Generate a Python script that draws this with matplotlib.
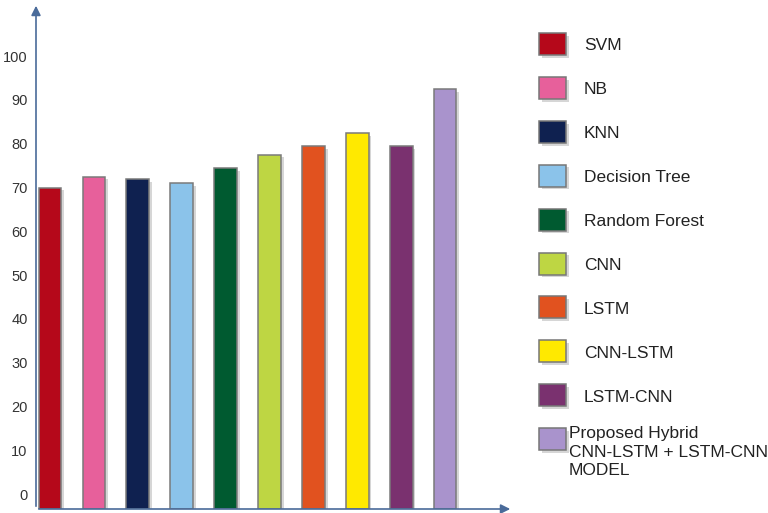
import matplotlib.pyplot as plt
from matplotlib.patches import Rectangle
import matplotlib.patheffects as pe

plt.rcParams['font.family'] = ['Liberation Sans', 'DejaVu Sans']

models = ['SVM', 'NB', 'KNN', 'Decision Tree', 'Random Forest', 'CNN', 'LSTM',
          'CNN-LSTM', 'LSTM-CNN', 'Proposed Hybrid\nCNN-LSTM + LSTM-CNN\nMODEL']
accuracy = [70, 72.5, 72, 71, 74.5, 77.5, 79.5, 82.5, 79.5, 92.4]
colors = ['#b5081a', '#e7609b', '#0f2150', '#8bc3ea', '#005a30', '#bed643',
          '#e1521f', '#ffe900', '#7a316f', '#a993cc']
yticks = [0, 10, 20, 30, 40, 50, 60, 70, 80, 90, 100]

W, H = 768, 513
fig = plt.figure(figsize=(W / 100, H / 100), dpi=100)
ax = fig.add_axes([36 / W, 4 / H, (513 - 36) / W, (509 - 8) / H])

ymin, ymax = -3.4, 111
ax.set_ylim(ymin, ymax)
ax.set_xlim(-0.32, 10.55)

shadow = [pe.SimplePatchShadow(offset=(2, -2), shadow_rgbFace='#d6d6d6', alpha=1),
          pe.Normal()]
x = list(range(len(accuracy)))
bars = ax.bar(x, [v - ymin for v in accuracy], bottom=ymin, width=0.52,
              color=colors, edgecolor='#7a7a7a', linewidth=1.1)
for b in bars:
    b.set_path_effects(shadow)

for s in ax.spines.values():
    s.set_visible(False)
ax.set_xticks([])
ax.set_yticks(yticks)
ax.set_yticklabels([str(t) for t in yticks], fontsize=10.5, color='#333333')
ax.tick_params(axis='y', length=0, pad=6)

axis_col = '#4a6b9a'
ax.annotate('', xy=(0, 1.01), xytext=(0, 0), xycoords='axes fraction',
            arrowprops=dict(arrowstyle='-|>', color=axis_col, lw=1.2, mutation_scale=14))
ax.annotate('', xy=(1, 0), xytext=(0, 0), xycoords='axes fraction',
            arrowprops=dict(arrowstyle='-|>', color=axis_col, lw=1.2, mutation_scale=14))

# legend drawn by hand
row0, step = 44, 43.9
for i, (name, c) in enumerate(zip(models, colors)):
    yc = row0 + i * step
    r = Rectangle((539 / W, 1 - (yc + 11) / H), 27 / W, 22 / H, transform=fig.transFigure,
                  facecolor=c, edgecolor='#777777', linewidth=1.1)
    r.set_path_effects(shadow)
    fig.patches.append(r)
    if '\n' in name:
        fig.text(569 / W, 1 - (yc - 13) / H, name, fontsize=12.5, color='#222222',
                 va='top', ha='left', linespacing=1.3)
    else:
        fig.text(584 / W, 1 - (yc + 2) / H, name, fontsize=12.5, color='#222222',
                 va='center', ha='left')

fig.savefig('out.png', dpi=100)
